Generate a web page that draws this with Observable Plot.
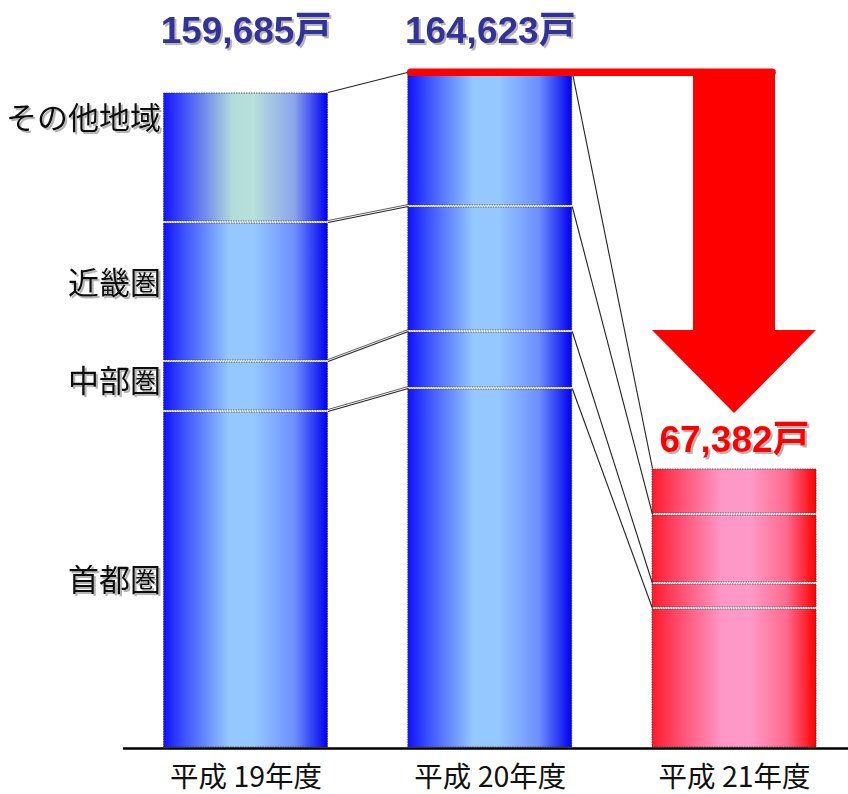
<!DOCTYPE html>
<html>
<head>
<meta charset="utf-8">
<script src="https://cdn.jsdelivr.net/npm/d3@7"></script>
<script src="https://cdn.jsdelivr.net/npm/@observablehq/plot@0.6"></script>
<style>
  html, body { margin: 0; padding: 0; background: #fff; }
  #chart svg text.shadowed, #chart svg g.shadowed text { filter: url(#tshadow); }
</style>
</head>
<body>
<div id="chart"></div>
<script>
// ---- data ----
const years = ["平成 19年度", "平成 20年度", "平成 21年度"];
const regions = ["首都圏", "中部圏", "近畿圏", "その他地域"];
const shutoken = [82030, 87630, 34080];
const chubu    = [12170, 13875, 6085];
const kinki    = [33835, 30430, 16795];
const sonota   = [31650, 32688, 11200];
const totals   = [159685, 164623, 67382];
const totalLabels = ["159,685戸", "164,623戸", "67,382戸"];

// ---- layout / style constants ----
const W = 848, Hgt = 794;
const HALF = 0.3357;              // half bar width in x units
const ARROW_HEAD_TOP = 101750;    // arrow head base (value units)
const ARROW_TIP = 81550;          // arrow tip (value units)
const labelDy = [1.5, -4, -7.5, -38];
const BLUE_TXT = "#333399";
const RED = "#ff0000";

const series = [shutoken, chubu, kinki, sonota];
const rows = [];
years.forEach((yr, i) => {
  let acc = 0;
  series.forEach((vals, k) => {
    const v = vals[i];
    rows.push({i, year: yr, region: regions[k], k, y1: acc, y2: acc + v});
    acc += v;
  });
});
const segTop = (i, k) => rows.find(r => r.i === i && r.k === k).y2;
const stackTop = years.map((_, i) => segTop(i, 3));

const links = [];
for (let g = 0; g < 2; g++) for (let k = 0; k < 4; k++) {
  links.push({g, k, x1: g + HALF, x2: g + 1 - HALF, y1: segTop(g, k), y2: segTop(g + 1, k)});
}

const fillOf = d => d.i === 2 ? "url(#gRed)" : (d.i === 0 && d.k === 3 ? "url(#gTeal)" : "url(#gBlue)");

const gradients = [
  ["gBlue", [[0, "#1010ff"], [0.12, "#3a50ff"], [0.4, "#95c8ff"], [0.55, "#95c8ff"], [0.8, "#6d8fff"], [1, "#0000f0"]]],
  ["gTeal", [[0, "#1414ff"], [0.15, "#4a5cf8"], [0.42, "#b2dcda"], [0.55, "#b8e0dc"], [0.8, "#8aa4ee"], [1, "#0000f5"]]],
  ["gRed",  [[0, "#ff1a2a"], [0.15, "#ff4868"], [0.42, "#ff96c6"], [0.6, "#ff99c8"], [0.82, "#ff6a8e"], [1, "#ff0000"]]]
];
const defsMark = () => {
  const ns = "http://www.w3.org/2000/svg";
  const defs = document.createElementNS(ns, "defs");
  for (const [id, stops] of gradients) {
    const g = document.createElementNS(ns, "linearGradient");
    g.setAttribute("id", id);
    g.setAttribute("x1", "0"); g.setAttribute("x2", "1");
    g.setAttribute("y1", "0"); g.setAttribute("y2", "0");
    for (const [o, c] of stops) {
      const s = document.createElementNS(ns, "stop");
      s.setAttribute("offset", o);
      s.setAttribute("stop-color", c);
      g.appendChild(s);
    }
    defs.appendChild(g);
  }
  const f = document.createElementNS(ns, "filter");
  f.setAttribute("id", "tshadow");
  f.setAttribute("x", "-10%"); f.setAttribute("y", "-20%");
  f.setAttribute("width", "130%"); f.setAttribute("height", "150%");
  const ds = document.createElementNS(ns, "feDropShadow");
  ds.setAttribute("dx", "2"); ds.setAttribute("dy", "2");
  ds.setAttribute("stdDeviation", "0.6");
  ds.setAttribute("flood-color", "#777");
  ds.setAttribute("flood-opacity", "0.55");
  f.appendChild(ds);
  defs.appendChild(f);
  return defs;
};

const yearRows = years.map((label, i) => ({i, label, total: totals[i], totalLabel: totalLabels[i], top: stackTop[i]}));
const bar1Mid = regions.map((r, k) => ({k, region: r, mid: (segTop(0, k) + (k ? segTop(0, k - 1) : 0)) / 2}));

const jpFont = "'Noto Sans CJK JP', 'Noto Sans', sans-serif";
const numFont = "'Liberation Sans', Arial, 'Noto Sans CJK JP', sans-serif";

const regionLabelMarks = bar1Mid.map((d, k) =>
  Plot.text([d], {x: () => -HALF, y: "mid", text: "region", textAnchor: "end", dx: -3, dy: labelDy[k],
    fill: "#111", fontSize: 31, fontFamily: jpFont, className: "shadowed"})
);

const arrowHead = [
  {x: 2 - HALF, y: ARROW_HEAD_TOP},
  {x: 2, y: ARROW_TIP},
  {x: 2 + HALF, y: ARROW_HEAD_TOP}
];

const chart = Plot.plot({
  width: W,
  height: Hgt,
  marginLeft: 123,
  marginRight: 0,
  marginTop: 0,
  marginBottom: 46,
  x: {type: "linear", domain: [-0.5016, 2.4667], axis: null},
  y: {type: "linear", domain: [0, 182080], axis: null},
  color: {type: "identity"},
  style: {background: "#fff", overflow: "visible"},
  marks: [
    defsMark,
    // stacked bars
    Plot.rect(rows, {
      x1: d => d.i - HALF, x2: d => d.i + HALF, y1: "y1", y2: "y2",
      fill: fillOf, insetTop: 1, insetBottom: 1,
      stroke: "#333", strokeWidth: 0.7, strokeDasharray: "1.5,1"
    }),
    // connector lines
    Plot.link(links, {x1: "x1", y1: "y1", x2: "x2", y2: "y2", stroke: "#222", strokeWidth: 1.1}),
    Plot.link(links.filter(d => d.g === 0 && d.k < 3), {x1: "x1", y1: "y1", x2: "x2", y2: "y2", dy: -2, stroke: "#333", strokeWidth: 0.8}),
    // baseline
    Plot.ruleY([0], {stroke: "#000", strokeWidth: 2.5}),
    // red arrow
    Plot.ruleY([stackTop[1]], {x1: () => 1 - HALF + 0.012, x2: () => 2 + HALF / 2 - 0.012, stroke: RED, strokeWidth: 7.5, strokeLinecap: "round"}),
    Plot.rect([{x1: 2 - HALF / 2, x2: 2 + HALF / 2, y1: ARROW_HEAD_TOP, y2: stackTop[1]}], {x1: "x1", x2: "x2", y1: "y1", y2: "y2", fill: RED}),
    Plot.areaY(arrowHead, {x: "x", y1: () => ARROW_HEAD_TOP, y2: "y", fill: RED}),
    // region labels (left)
    ...regionLabelMarks,
    // totals (blue, top)
    Plot.text(yearRows.filter(d => d.i < 2), {x: "i", text: "totalLabel", frameAnchor: "top", dy: 16,
      fill: BLUE_TXT, fontSize: 37, fontWeight: "bold", fontFamily: numFont, className: "shadowed"}),
    // total (red)
    Plot.text(yearRows.filter(d => d.i === 2), {x: "i", y: "top", text: "totalLabel", dy: -28,
      fill: RED, fontSize: 37, fontWeight: "bold", fontFamily: numFont, className: "shadowed"}),
    // year labels (bottom)
    Plot.text(yearRows, {x: "i", text: "label", frameAnchor: "bottom", dy: 38,
      fill: "#111", fontSize: 28.5, fontFamily: jpFont})
  ]
});

document.getElementById("chart").appendChild(chart);
</script>
</body>
</html>
